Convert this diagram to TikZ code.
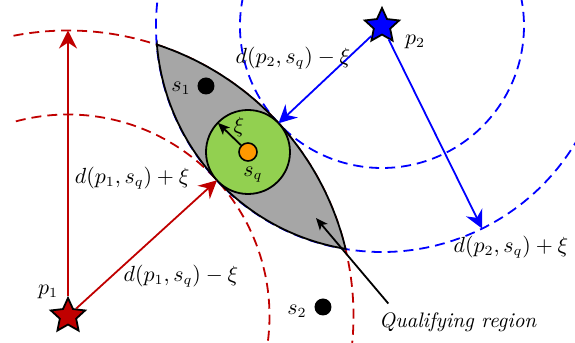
\documentclass[tikz,border=0pt]{standalone}
\usetikzlibrary{arrows.meta,shapes.geometric,calc}
\definecolor{PivotRed}{HTML}{C00000}
\definecolor{PivotBlue}{HTML}{0000FF}
\definecolor{LensGrey}{HTML}{A6A6A6}
\definecolor{BallGreen}{HTML}{92D050}
\definecolor{QueryOrange}{HTML}{FF9900}

\begin{document}
\begin{tikzpicture}[>=Stealth, x=0.5pt, y=0.5pt, line width=0.9pt,
    ring/.style={dashed, dash pattern=on 5pt off 3pt},
    bigtip/.style={-{Stealth[length=9pt, width=9pt, inset=3pt]}},
    smalltip/.style={-{Stealth[length=6pt, width=5pt, inset=1.5pt]}},
    lbl/.style={font=\fontsize{10.5}{12.5}\selectfont, inner sep=1pt},
    pivot/.style={star, star points=5, star point ratio=2.1, draw=black,
        minimum size=18pt, inner sep=0pt, line width=0.9pt},
    dot/.style={circle, fill=black, minimum size=8.5pt, inner sep=0pt}]
    \useasboundingbox (0,0) rectangle (575,343);
    \clip (0,0) rectangle (575,343);

    % Pivots
    \node[pivot, fill=PivotRed] (p1) at (68,27) {};
    \node[pivot, fill=PivotBlue] (p2) at (382,317) {};

    % Rings around p1 (radius d -/+ xi)
    \draw[PivotRed, ring] (p1.center) ++(101:285.5) arc[start angle=101, end angle=-8, radius=285.5];
    \draw[PivotRed, ring] (p1.center) ++(105:201.5) arc[start angle=105, end angle=-10, radius=201.5];

    % Rings around p2
    \draw[PivotBlue, ring] (p2.center) ++(168:142) arc[start angle=168, end angle=372, radius=142];
    \draw[PivotBlue, ring] (p2.center) ++(170:226) arc[start angle=170, end angle=335, radius=226];

    % Qualifying region (lens)
    \filldraw[fill=LensGrey, draw=black]
        (156.8,298.4) arc[start angle=71.9, end angle=13.6, radius=285.5]
        arc[start angle=260.7, end angle=184.7, radius=226] -- cycle;

    % Query ball
    \node[circle, draw=black, fill=BallGreen, minimum size=42pt, inner sep=0pt, line width=0.9pt] (ball) at (248,191) {};
    \node[circle, draw=black, fill=QueryOrange, minimum size=9pt, inner sep=0pt, line width=0.8pt] (sq) at (248,191) {};
    \node[lbl] (sqlbl) at (253,168) {$s_q$};
    \coordinate (xitip) at ($(sq.center)+(136:42)$);
    \draw[smalltip] (sq) -- (xitip);
    \node[lbl] (xilbl) at (239,216) {$\xi$};

    % Distances from p1
    \coordinate (r1out) at (68,312.5);
    \coordinate (r1in) at (217,162.7);
    \draw[PivotRed, bigtip] (p1) -- (r1out);
    \draw[PivotRed, bigtip] (p1) -- (r1in);
    \node[lbl, anchor=west] (d1plus) at (72,165) {$d(p_1,s_q)+\xi$};
    \node[lbl] (d1minus) at (181,67) {$d(p_1,s_q)-\xi$};

    % Distances from p2
    \coordinate (r2in) at (278.5,219.7);
    \coordinate (r2out) at ($(p2.center)+(-63.7:226)$);
    \draw[PivotBlue, bigtip] (p2) -- (r2in);
    \draw[PivotBlue, bigtip] (p2) -- (r2out);
    \node[lbl] (d2minus) at (293,285) {$d(p_2,s_q)-\xi$};
    \node[lbl] (d2plus) at (511,96) {$d(p_2,s_q)+\xi$};

    % Pivot labels
    \node[lbl] (p1lbl) at (48,51) {$p_1$};
    \node[lbl] (p2lbl) at (415,301) {$p_2$};

    % Other objects
    \node[dot] (s1) at (206,257) {};
    \node[lbl] (s1lbl) at (181,255) {$s_1$};
    \node[dot] (s2) at (323,36) {};
    \node[lbl] (s2lbl) at (297,32) {$s_2$};

    % Caption arrow
    \node[lbl] (qr) at (458,21) {\textit{Qualifying region}};
    \coordinate (qrtip) at (316,125);
    \draw[smalltip] ([xshift=6pt,yshift=3pt]qr.north west) -- (qrtip);
\end{tikzpicture}
\end{document}
